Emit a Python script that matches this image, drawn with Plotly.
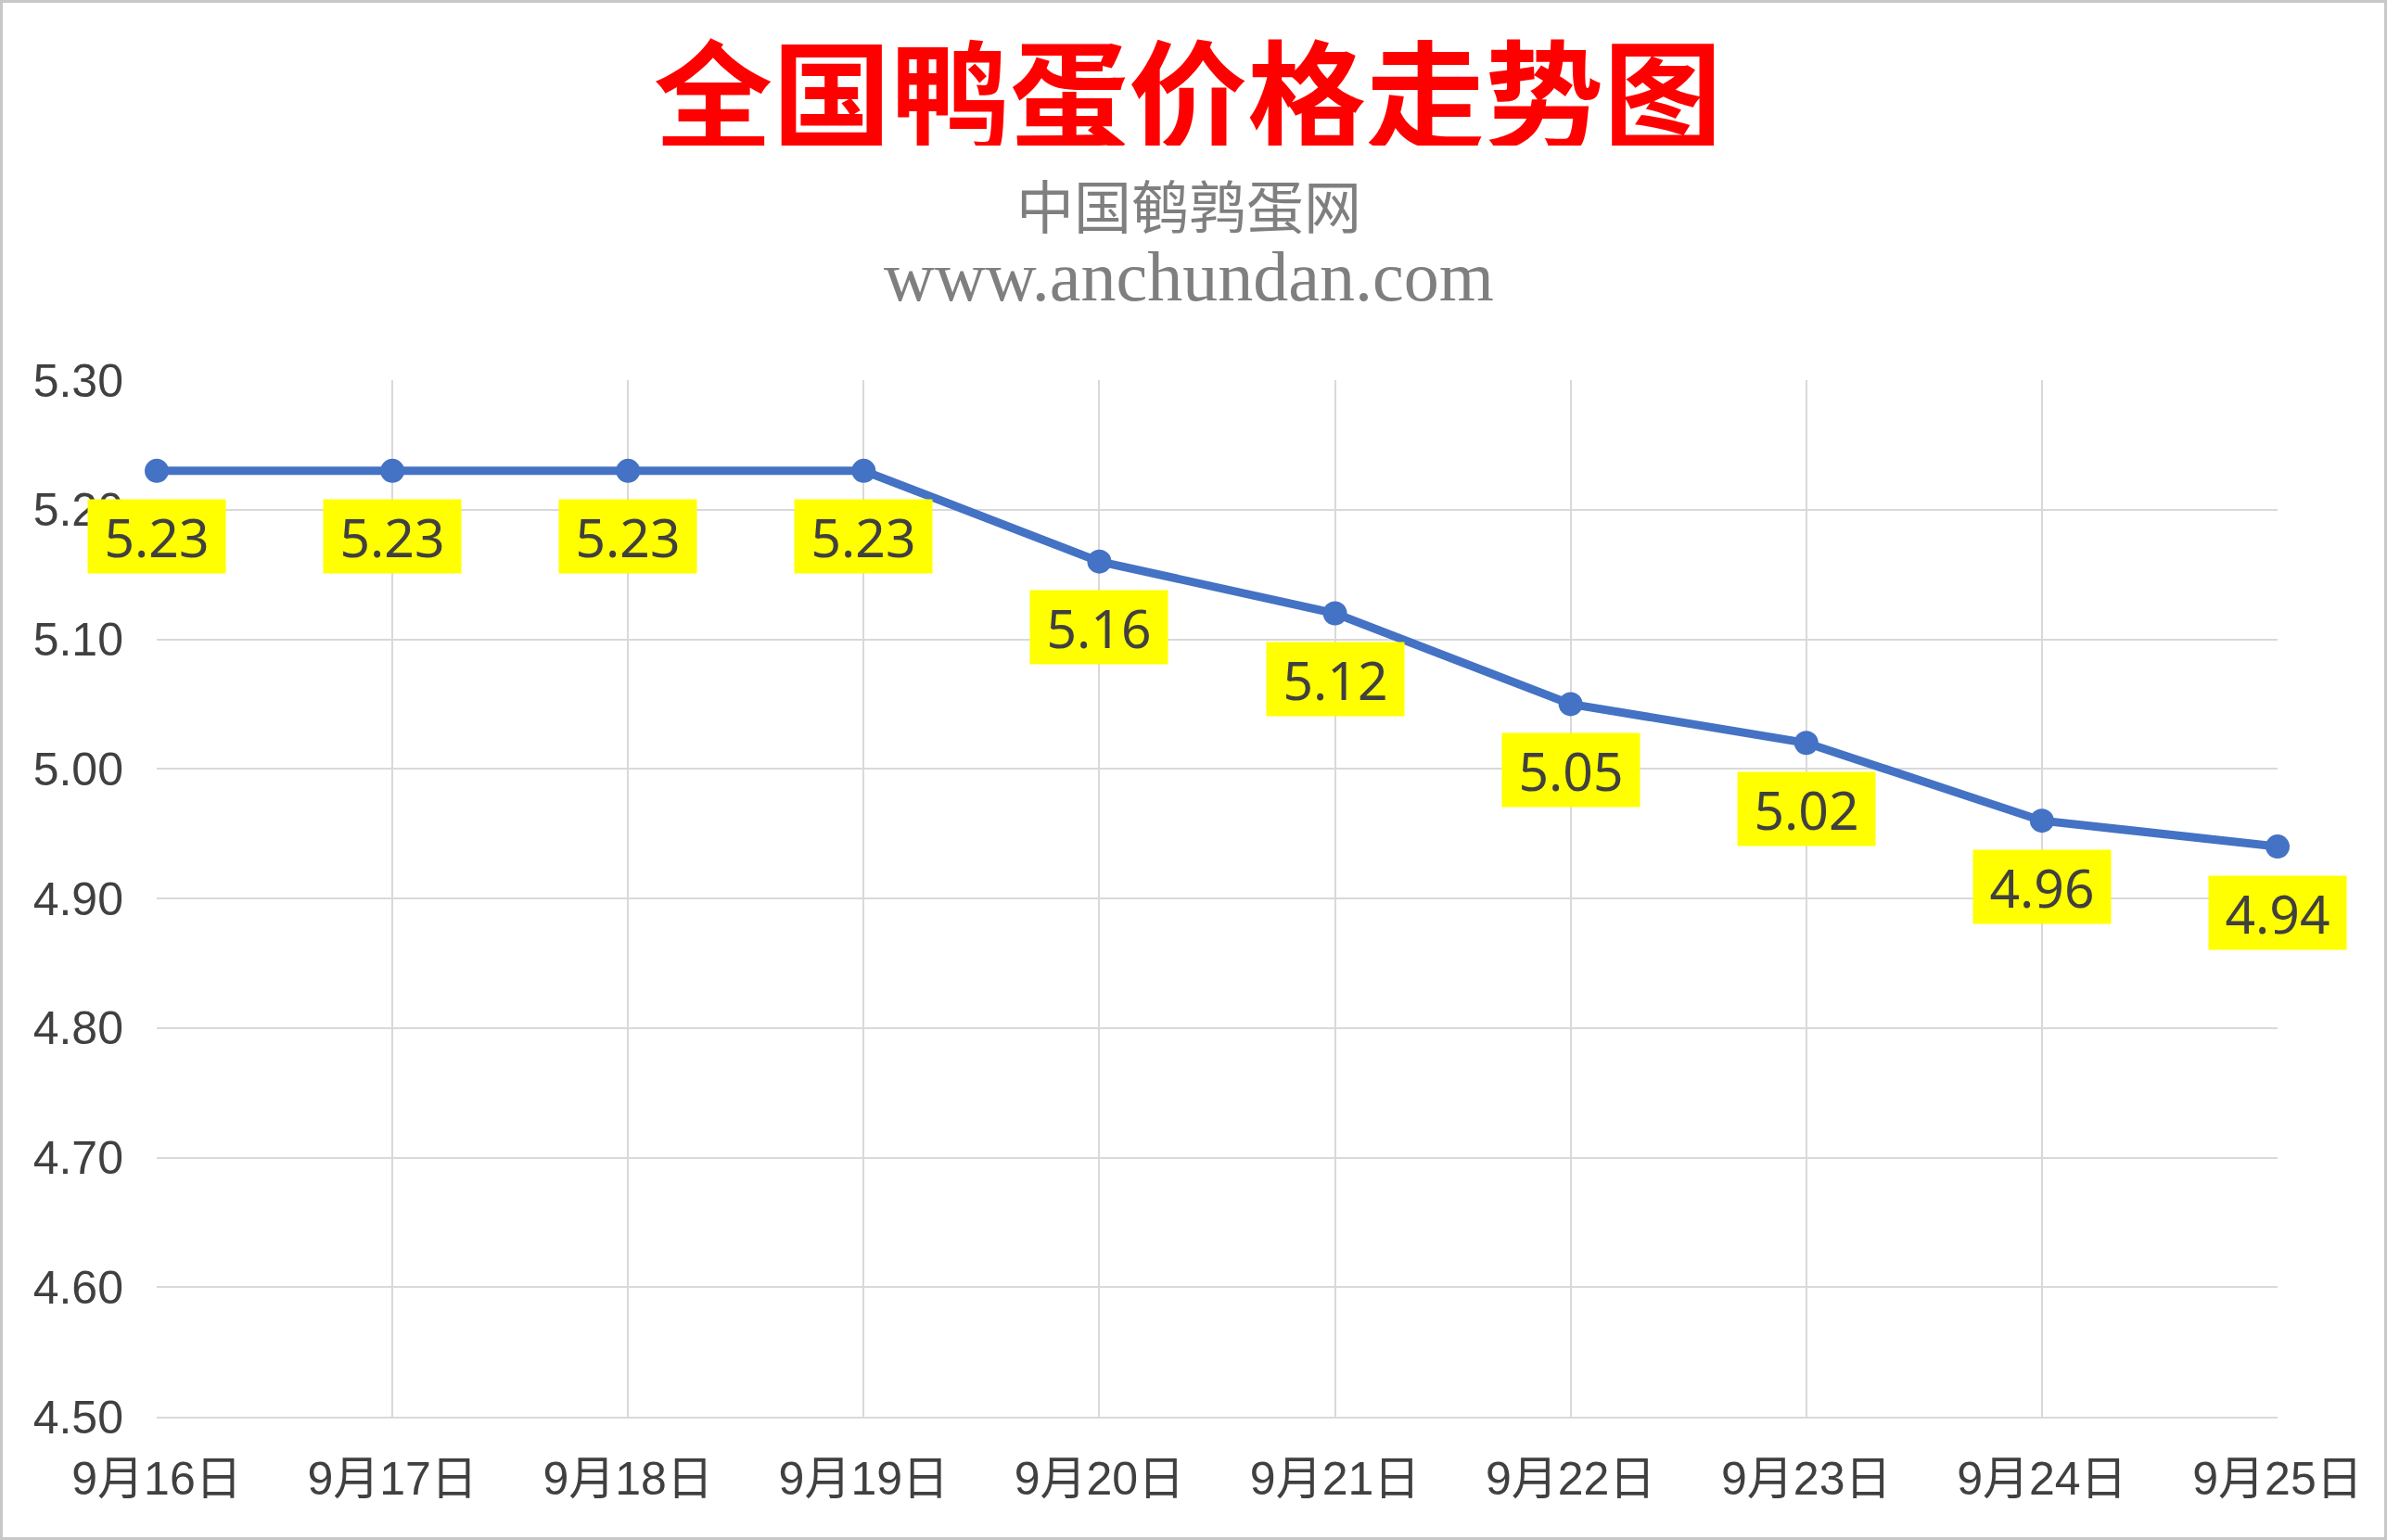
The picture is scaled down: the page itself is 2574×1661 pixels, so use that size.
import plotly.graph_objects as go

# 数据
dates = ["9月16日", "9月17日", "9月18日", "9月19日", "9月20日",
         "9月21日", "9月22日", "9月23日", "9月24日", "9月25日"]
prices = [5.23, 5.23, 5.23, 5.23, 5.16, 5.12, 5.05, 5.02, 4.96, 4.94]

title_text = "全国鸭蛋价格走势图"
sub_text = "中国鹌鹑蛋网"
url_text = "www.anchundan.com"

W, H = 2574, 1661
L, R, T, B = 169, 118, 410, 133
pw, ph = W - L - R, H - T - B

fig = go.Figure()
fig.add_trace(go.Scatter(
    x=dates, y=prices, mode="lines+markers",
    line=dict(color="#4472C4", width=9),
    marker=dict(color="#4472C4", size=26),
    cliponaxis=False, showlegend=False,
))

# 数据标签（黄色底）
for d, p in zip(dates, prices):
    fig.add_annotation(
        x=d, y=p, text=f"{p:.2f}", showarrow=False, yshift=-71,
        bgcolor="#FFFF00", width=148, height=79, borderpad=0,
        font=dict(family="Noto Sans", size=57, color="#404040"),
    )

def py(pix):
    return (H - B - pix) / ph

def px(pix):
    return (pix - L) / pw

# 标题与副标题
fig.add_annotation(x=px(1281), y=py(96), xref="paper", yref="paper",
                   text=f"<b>{title_text}</b>", showarrow=False,
                   xanchor="center", yanchor="middle", height=122, borderpad=0,
                   font=dict(family="Noto Sans CJK SC", size=128, color="#FF0000"))
fig.add_annotation(x=px(1282), y=py(220), xref="paper", yref="paper",
                   text=sub_text, showarrow=False,
                   xanchor="center", yanchor="middle", height=64, borderpad=0,
                   font=dict(family="Noto Sans CJK SC", size=62, color="#7F7F7F"))
fig.add_annotation(x=px(1282), y=py(298), xref="paper", yref="paper",
                   text=url_text, showarrow=False,
                   xanchor="center", yanchor="middle", height=72, borderpad=0,
                   font=dict(family="Liberation Serif", size=76, color="#7F7F7F"))

# 外边框
fig.add_shape(type="rect", xref="paper", yref="paper",
              x0=px(1.5), x1=px(W - 1.5), y0=py(H - 1.5), y1=py(1.5),
              line=dict(color="#C8C8C8", width=3), fillcolor="rgba(0,0,0,0)")

fig.update_layout(
    width=W, height=H,
    margin=dict(l=L, r=R, t=T, b=B),
    plot_bgcolor="white", paper_bgcolor="white",
    xaxis=dict(
        type="category", range=[0, len(dates) - 1],
        showgrid=True, gridcolor="#D9D9D9", gridwidth=2,
        showline=True, linecolor="#D9D9D9", linewidth=2,
        ticks="", ticklabelstandoff=22,
        tickfont=dict(family="Liberation Sans, Noto Sans CJK SC", size=50, color="#404040"),
    ),
    yaxis=dict(
        range=[4.5, 5.3], dtick=0.1, tickformat=".2f",
        showgrid=True, gridcolor="#D9D9D9", gridwidth=2,
        zeroline=False, showline=False, ticks="", ticklabelstandoff=35,
        tickfont=dict(family="Liberation Sans", size=50, color="#404040"),
    ),
)

fig.write_html("out.html", config={"displayModeBar": False},
               post_script="document.body.style.margin='0';")
